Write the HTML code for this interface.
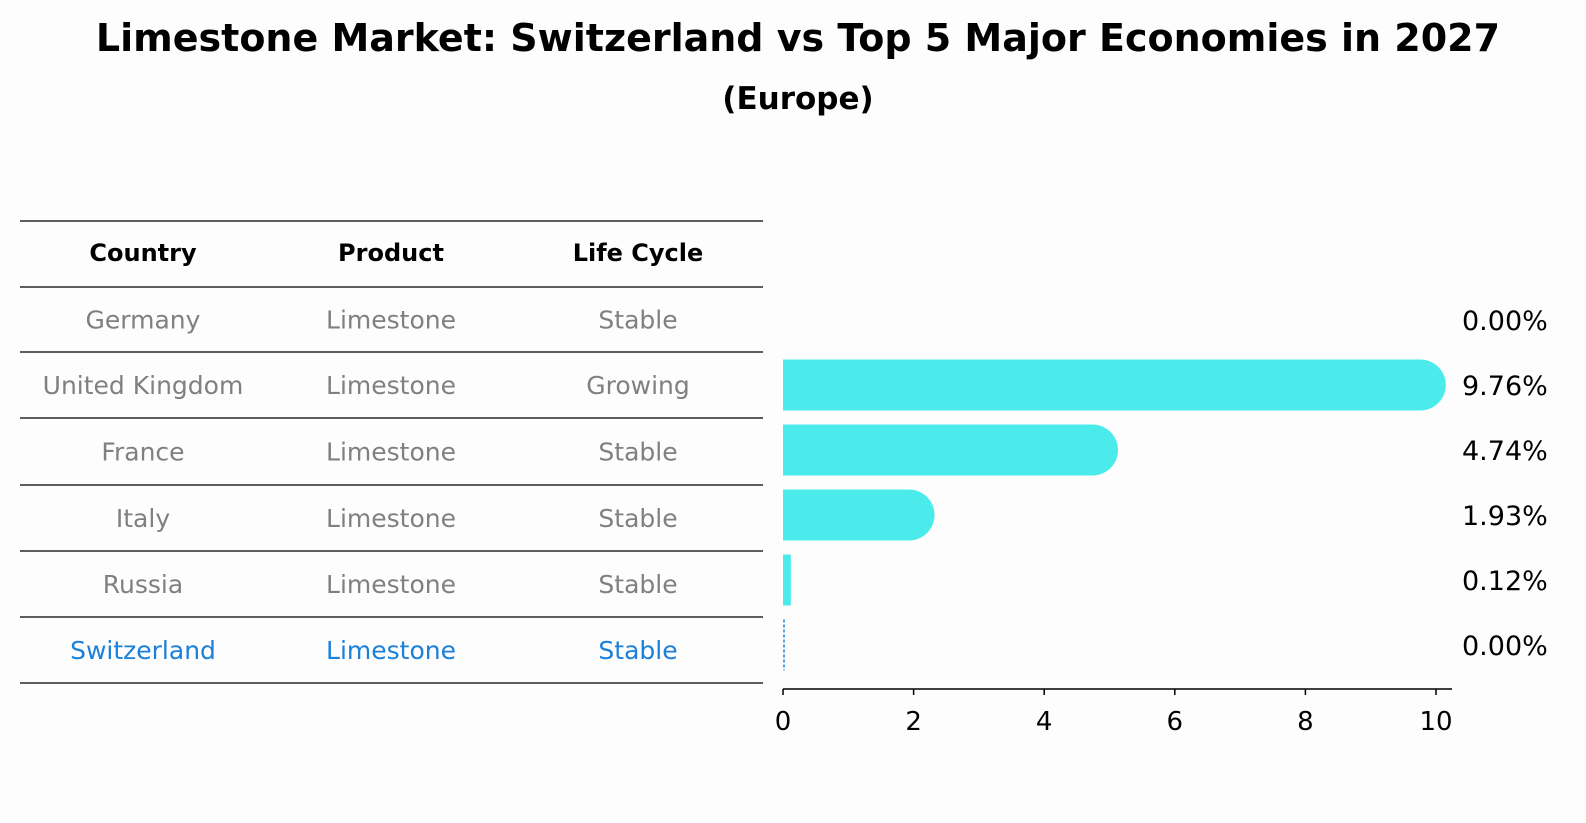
<!DOCTYPE html>
<html><head><meta charset="utf-8"><style>
body{margin:0;background:#fdfdfd;}
svg{display:block;font-family:"DejaVu Sans","Liberation Sans",sans-serif;}
</style></head><body>
<svg id="chart" width="1586" height="823" viewBox="0 0 1586 823" xmlns="http://www.w3.org/2000/svg">
<rect width="1586" height="823" fill="#fdfdfd"/>
<text x="798" y="51" text-anchor="middle" font-size="38" font-weight="bold">Limestone Market: Switzerland vs Top 5 Major Economies in 2027</text>
<text x="798" y="109" text-anchor="middle" font-size="31" font-weight="bold">(Europe)</text>
<g id="table"></g>
<g id="bars"></g>
</svg>
<script>
const countries=["Germany","United Kingdom","France","Italy","Russia","Switzerland"];
const products=["Limestone","Limestone","Limestone","Limestone","Limestone","Limestone"];
const lifeCycles=["Stable","Growing","Stable","Stable","Stable","Stable"];
const values=[0.00,9.76,4.74,1.93,0.12,0.00];
const tickLabels=[0,2,4,6,8,10];

const NS="http://www.w3.org/2000/svg";
function mk(tag,attrs,parent){const e=document.createElementNS(NS,tag);for(const k in attrs)e.setAttribute(k,attrs[k]);parent.appendChild(e);return e;}
const table=document.getElementById('table');
const bars=document.getElementById('bars');
const lineYs=[221,287,352,418,485,551,617,683];
const colX=[143,391,638];
lineYs.forEach((y,i)=>{const l=mk('line',{x1:20,x2:763,y1:y,y2:y,stroke:'#000','stroke-width':1.2},table);

});
["Country","Product","Life Cycle"].forEach((h,i)=>{const t=mk('text',{x:colX[i],y:261,'text-anchor':'middle','font-size':24,'font-weight':'bold',fill:'#000'},table);t.textContent=h;

});
const rowY=i=>(lineYs[i+1]+lineYs[i+2])/2;
countries.forEach((c,i)=>{const col=i===countries.length-1?'#1a80d9':'#808080';
[c,products[i],lifeCycles[i]].forEach((v,j)=>{const t=mk('text',{x:colX[j],y:rowY(i)+9,'text-anchor':'middle','font-size':25,fill:col},table);t.textContent=v;

});});
const x0=783,x1=1436,xmax=10;
const xs=v=>x0+(x1-x0)*v/xmax;
const axisY=689;
const ax=mk('line',{x1:x0,x2:1452,y1:axisY,y2:axisY,stroke:'#000','stroke-width':1.5},bars);


tickLabels.forEach(v=>{const tk=mk('line',{x1:xs(v),x2:xs(v),y1:axisY,y2:axisY+6,stroke:'#000','stroke-width':1.5},bars);


const t=mk('text',{x:xs(v),y:730,'text-anchor':'middle','font-size':26},bars);t.textContent=v;

});
const h=51,r=25.5;
values.forEach((v,i)=>{const cy=320+65*i;const yTop=cy-h/2;
if(i===countries.length-1){const l=mk('line',{x1:x0+1,x2:x0+1,y1:yTop,y2:yTop+h,stroke:'#1a80d9','stroke-width':1.5,'stroke-dasharray':'3,2'},bars);

}
else if(v>0){const w=xs(v)-x0;let el;
if(w>r*2){el=mk('path',{d:`M${x0},${yTop}H${xs(v)}A${r},${r} 0 0 1 ${xs(v)},${yTop+h}H${x0}Z`,fill:'#4aebea'},bars);}
else{el=mk('rect',{x:x0,y:yTop,width:w,height:h,fill:'#4aebea'},bars);}

}
const t=mk('text',{x:1462,y:cy+10,'font-size':27},bars);t.textContent=v.toFixed(2)+'%';

});
</script>
</body></html>
